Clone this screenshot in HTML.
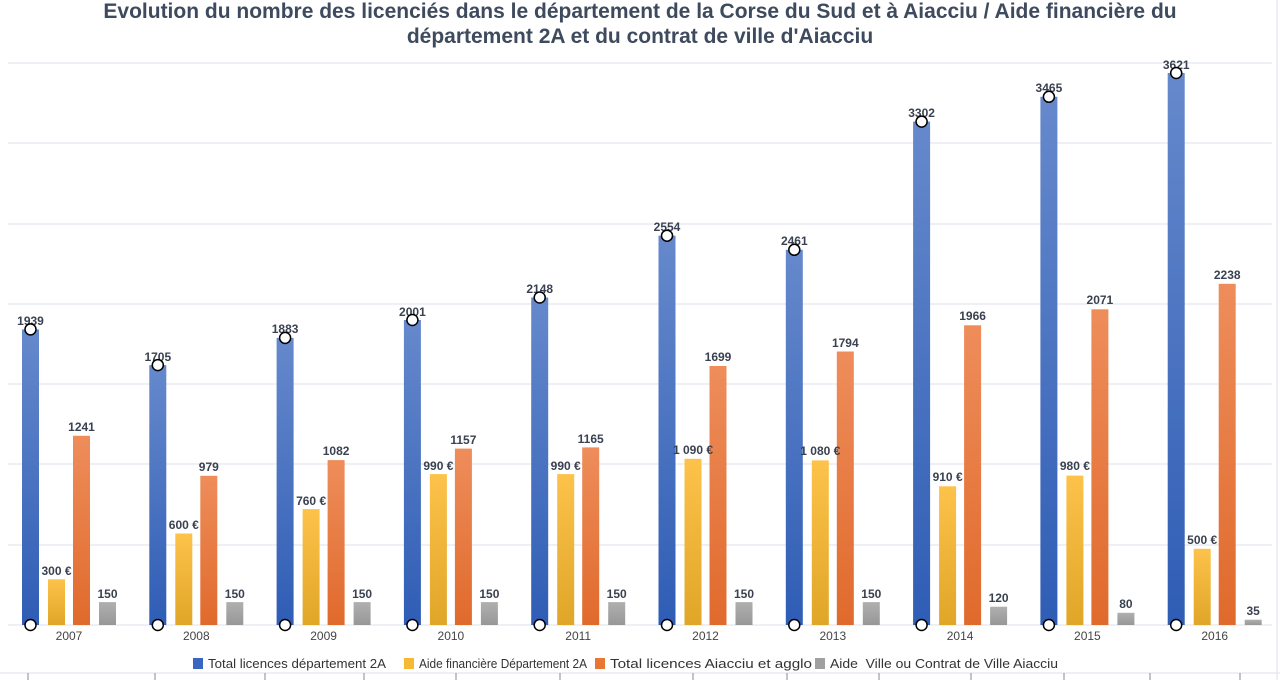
<!DOCTYPE html>
<html><head><meta charset="utf-8"><style>
html,body{margin:0;padding:0;background:#fff;}
svg{display:block;font-family:"Liberation Sans","DejaVu Sans",sans-serif;}
.l{font-size:12px;font-weight:bold;fill:#3a4150;text-anchor:middle;}
.y{font-size:12px;fill:#444;text-anchor:middle;}
</style></head><body>
<svg width="1280" height="680" viewBox="0 0 1280 680" xmlns="http://www.w3.org/2000/svg">
<defs>
<linearGradient id="gb" x1="0" y1="0" x2="0" y2="1"><stop offset="0" stop-color="#6689cc"/><stop offset="1" stop-color="#2f5db5"/></linearGradient>
<linearGradient id="gy" x1="0" y1="0" x2="0" y2="1"><stop offset="0" stop-color="#fdc24a"/><stop offset="1" stop-color="#e0a628"/></linearGradient>
<linearGradient id="go" x1="0" y1="0" x2="0" y2="1"><stop offset="0" stop-color="#ee8d5b"/><stop offset="1" stop-color="#e06a2c"/></linearGradient>
<linearGradient id="gg" x1="0" y1="0" x2="0" y2="1"><stop offset="0" stop-color="#b0b0b0"/><stop offset="1" stop-color="#979797"/></linearGradient>
</defs>
<text x="640" y="18" text-anchor="middle" font-size="21" font-weight="bold" fill="#3e4a5e">Evolution du nombre des licenciés dans le département de la Corse du Sud et à Aiacciu / Aide financière du</text>
<text x="640" y="43" text-anchor="middle" font-size="21" font-weight="bold" fill="#3e4a5e">département 2A et du contrat de ville d'Aiacciu</text>
<g stroke="#dde2ec" stroke-width="1">
<line x1="8" y1="63" x2="1272" y2="63"/><line x1="8" y1="143" x2="1272" y2="143"/><line x1="8" y1="224" x2="1272" y2="224"/><line x1="8" y1="304" x2="1272" y2="304"/><line x1="8" y1="384" x2="1272" y2="384"/><line x1="8" y1="464" x2="1272" y2="464"/><line x1="8" y1="545" x2="1272" y2="545"/><line x1="8" y1="625" x2="1272" y2="625"/>
<line x1="0" y1="673" x2="1280" y2="673"/><line x1="1277" y1="0" x2="1277" y2="680"/>
</g>
<g stroke="#888" stroke-width="1">
<line x1="28" y1="673" x2="28" y2="680"/><line x1="155" y1="673" x2="155" y2="680"/><line x1="265" y1="673" x2="265" y2="680"/><line x1="364" y1="673" x2="364" y2="680"/><line x1="456" y1="673" x2="456" y2="680"/><line x1="560" y1="673" x2="560" y2="680"/><line x1="693" y1="673" x2="693" y2="680"/><line x1="787" y1="673" x2="787" y2="680"/><line x1="879" y1="673" x2="879" y2="680"/><line x1="971" y1="673" x2="971" y2="680"/><line x1="1064" y1="673" x2="1064" y2="680"/><line x1="1150" y1="673" x2="1150" y2="680"/><line x1="1240" y1="673" x2="1240" y2="680"/>
</g>

<g transform="translate(22,0)">
<rect x="0" y="329.4" width="17" height="295.6" fill="url(#gb)"/><rect x="26" y="579.3" width="17" height="45.7" fill="url(#gy)"/><rect x="51" y="435.8" width="17" height="189.2" fill="url(#go)"/><rect x="77" y="602.1" width="17" height="22.9" fill="url(#gg)"/>
<text class="l" x="8.5" y="325">1939</text><text class="l" x="34.5" y="575">300 €</text><text class="l" x="59.5" y="431">1241</text><text class="l" x="85.5" y="598">150</text>
<circle cx="8.5" cy="329.4" r="5.5" fill="#fff" stroke="#000" stroke-width="1.5"/><circle cx="8.5" cy="625" r="5.5" fill="#fff" stroke="#000" stroke-width="1.5"/><text class="y" x="47" y="640">2007</text></g>

<g transform="translate(149.3,0)">
<rect x="0" y="365.1" width="17" height="259.9" fill="url(#gb)"/><rect x="26" y="533.5" width="17" height="91.5" fill="url(#gy)"/><rect x="51" y="475.8" width="17" height="149.2" fill="url(#go)"/><rect x="77" y="602.1" width="17" height="22.9" fill="url(#gg)"/>
<text class="l" x="8.5" y="361">1705</text><text class="l" x="34.5" y="529">600 €</text><text class="l" x="59.5" y="471">979</text><text class="l" x="85.5" y="598">150</text>
<circle cx="8.5" cy="365.1" r="5.5" fill="#fff" stroke="#000" stroke-width="1.5"/><circle cx="8.5" cy="625" r="5.5" fill="#fff" stroke="#000" stroke-width="1.5"/><text class="y" x="47" y="640">2008</text></g>

<g transform="translate(276.6,0)">
<rect x="0" y="337.9" width="17" height="287.1" fill="url(#gb)"/><rect x="26" y="509.1" width="17" height="115.9" fill="url(#gy)"/><rect x="51" y="460.1" width="17" height="164.9" fill="url(#go)"/><rect x="77" y="602.1" width="17" height="22.9" fill="url(#gg)"/>
<text class="l" x="8.5" y="333">1883</text><text class="l" x="34.5" y="505">760 €</text><text class="l" x="59.5" y="455">1082</text><text class="l" x="85.5" y="598">150</text>
<circle cx="8.5" cy="337.9" r="5.5" fill="#fff" stroke="#000" stroke-width="1.5"/><circle cx="8.5" cy="625" r="5.5" fill="#fff" stroke="#000" stroke-width="1.5"/><text class="y" x="47" y="640">2009</text></g>

<g transform="translate(403.9,0)">
<rect x="0" y="320" width="17" height="305" fill="url(#gb)"/><rect x="26" y="474.1" width="17" height="150.9" fill="url(#gy)"/><rect x="51" y="448.6" width="17" height="176.4" fill="url(#go)"/><rect x="77" y="602.1" width="17" height="22.9" fill="url(#gg)"/>
<text class="l" x="8.5" y="316">2001</text><text class="l" x="34.5" y="470">990 €</text><text class="l" x="59.5" y="444">1157</text><text class="l" x="85.5" y="598">150</text>
<circle cx="8.5" cy="320" r="5.5" fill="#fff" stroke="#000" stroke-width="1.5"/><circle cx="8.5" cy="625" r="5.5" fill="#fff" stroke="#000" stroke-width="1.5"/><text class="y" x="47" y="640">2010</text></g>

<g transform="translate(531.2,0)">
<rect x="0" y="297.5" width="17" height="327.5" fill="url(#gb)"/><rect x="26" y="474.1" width="17" height="150.9" fill="url(#gy)"/><rect x="51" y="447.4" width="17" height="177.6" fill="url(#go)"/><rect x="77" y="602.1" width="17" height="22.9" fill="url(#gg)"/>
<text class="l" x="8.5" y="293">2148</text><text class="l" x="34.5" y="470">990 €</text><text class="l" x="59.5" y="443">1165</text><text class="l" x="85.5" y="598">150</text>
<circle cx="8.5" cy="297.5" r="5.5" fill="#fff" stroke="#000" stroke-width="1.5"/><circle cx="8.5" cy="625" r="5.5" fill="#fff" stroke="#000" stroke-width="1.5"/><text class="y" x="47" y="640">2011</text></g>

<g transform="translate(658.5,0)">
<rect x="0" y="235.7" width="17" height="389.3" fill="url(#gb)"/><rect x="26" y="458.8" width="17" height="166.2" fill="url(#gy)"/><rect x="51" y="366" width="17" height="259" fill="url(#go)"/><rect x="77" y="602.1" width="17" height="22.9" fill="url(#gg)"/>
<text class="l" x="8.5" y="231">2554</text><text class="l" x="34.5" y="454">1 090 €</text><text class="l" x="59.5" y="361">1699</text><text class="l" x="85.5" y="598">150</text>
<circle cx="8.5" cy="235.7" r="5.5" fill="#fff" stroke="#000" stroke-width="1.5"/><circle cx="8.5" cy="625" r="5.5" fill="#fff" stroke="#000" stroke-width="1.5"/><text class="y" x="47" y="640">2012</text></g>

<g transform="translate(785.8,0)">
<rect x="0" y="249.8" width="17" height="375.2" fill="url(#gb)"/><rect x="26" y="460.4" width="17" height="164.6" fill="url(#gy)"/><rect x="51" y="351.5" width="17" height="273.5" fill="url(#go)"/><rect x="77" y="602.1" width="17" height="22.9" fill="url(#gg)"/>
<text class="l" x="8.5" y="245">2461</text><text class="l" x="34.5" y="455">1 080 €</text><text class="l" x="59.5" y="347">1794</text><text class="l" x="85.5" y="598">150</text>
<circle cx="8.5" cy="249.8" r="5.5" fill="#fff" stroke="#000" stroke-width="1.5"/><circle cx="8.5" cy="625" r="5.5" fill="#fff" stroke="#000" stroke-width="1.5"/><text class="y" x="47" y="640">2013</text></g>

<g transform="translate(913.1,0)">
<rect x="0" y="121.6" width="17" height="503.4" fill="url(#gb)"/><rect x="26" y="486.3" width="17" height="138.7" fill="url(#gy)"/><rect x="51" y="325.3" width="17" height="299.7" fill="url(#go)"/><rect x="77" y="606.7" width="17" height="18.3" fill="url(#gg)"/>
<text class="l" x="8.5" y="117">3302</text><text class="l" x="34.5" y="481">910 €</text><text class="l" x="59.5" y="320">1966</text><text class="l" x="85.5" y="602">120</text>
<circle cx="8.5" cy="121.6" r="5.5" fill="#fff" stroke="#000" stroke-width="1.5"/><circle cx="8.5" cy="625" r="5.5" fill="#fff" stroke="#000" stroke-width="1.5"/><text class="y" x="47" y="640">2014</text></g>

<g transform="translate(1040.4,0)">
<rect x="0" y="96.8" width="17" height="528.2" fill="url(#gb)"/><rect x="26" y="475.6" width="17" height="149.4" fill="url(#gy)"/><rect x="51" y="309.3" width="17" height="315.7" fill="url(#go)"/><rect x="77" y="612.8" width="17" height="12.2" fill="url(#gg)"/>
<text class="l" x="8.5" y="92">3465</text><text class="l" x="34.5" y="470">980 €</text><text class="l" x="59.5" y="304">2071</text><text class="l" x="85.5" y="608">80</text>
<circle cx="8.5" cy="96.8" r="5.5" fill="#fff" stroke="#000" stroke-width="1.5"/><circle cx="8.5" cy="625" r="5.5" fill="#fff" stroke="#000" stroke-width="1.5"/><text class="y" x="47" y="640">2015</text></g>

<g transform="translate(1167.7,0)">
<rect x="0" y="73" width="17" height="552" fill="url(#gb)"/><rect x="26" y="548.8" width="17" height="76.2" fill="url(#gy)"/><rect x="51" y="283.8" width="17" height="341.2" fill="url(#go)"/><rect x="77" y="619.7" width="17" height="5.3" fill="url(#gg)"/>
<text class="l" x="8.5" y="69">3621</text><text class="l" x="34.5" y="544">500 €</text><text class="l" x="59.5" y="279">2238</text><text class="l" x="85.5" y="615">35</text>
<circle cx="8.5" cy="73" r="5.5" fill="#fff" stroke="#000" stroke-width="1.5"/><circle cx="8.5" cy="625" r="5.5" fill="#fff" stroke="#000" stroke-width="1.5"/><text class="y" x="47" y="640">2016</text></g>

<g font-size="13" fill="#333">
<rect x="193" y="658" width="10" height="11" fill="#3a66c0"/><text x="208" y="668" textLength="178" lengthAdjust="spacingAndGlyphs">Total licences département 2A</text>
<rect x="404" y="658" width="10" height="11" fill="#f6b936"/><text x="419" y="668" textLength="168" lengthAdjust="spacingAndGlyphs">Aide financière Département 2A</text>
<rect x="595" y="658" width="10" height="11" fill="#ea7636"/><text x="610" y="668" textLength="202" lengthAdjust="spacingAndGlyphs">Total licences Aiacciu et agglo</text>
<rect x="815" y="658" width="10" height="11" fill="#a0a0a0"/><text x="830" y="668" textLength="228" lengthAdjust="spacingAndGlyphs">Aide &#160;Ville ou Contrat de Ville Aiacciu</text>
</g>
</svg>
</body></html>
